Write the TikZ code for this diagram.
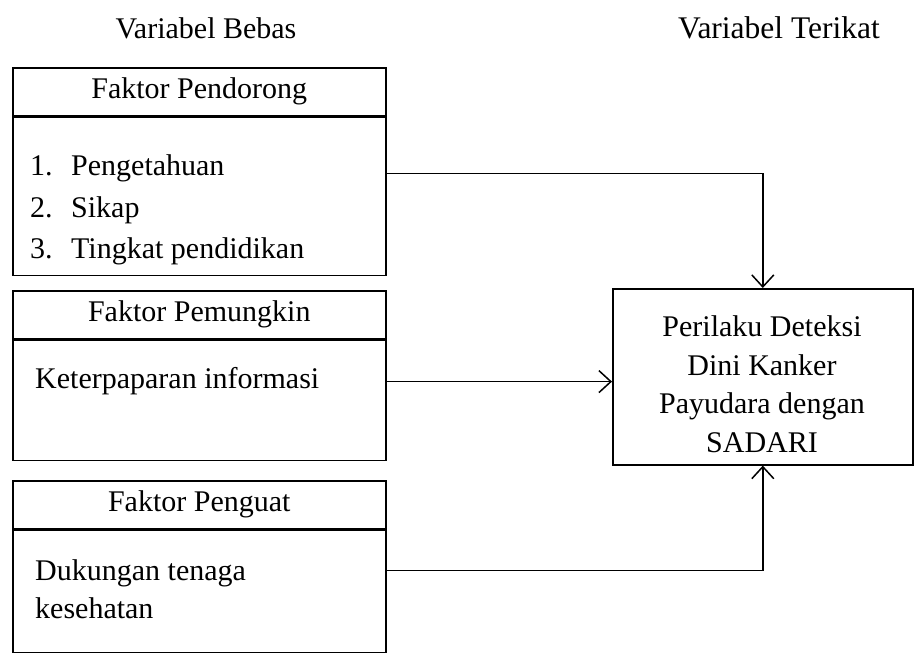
\documentclass[tikz,border=0pt]{standalone}
\usepackage{fontspec}
\setmainfont{Liberation Serif}
\usepackage{tikz}
\usetikzlibrary{arrows.meta,positioning}

\tikzset{
  kotak/.style={draw, line width=1.6pt, rectangle, minimum width=373pt, inner sep=0pt},
  teks/.style={font=\fontsize{30}{40}\selectfont, inner sep=0pt},
  panah/.style={line width=1.5pt, -{Straight Barb[length=12pt,width=22pt]}},
}

\begin{document}
\begin{tikzpicture}[x=1pt,y=-1pt]
	\useasboundingbox (0,0) rectangle (915,671);
	% judul kolom
	\node[teks] (bebas) at (206,28) {Variabel Bebas};
	\node[teks, font=\fontsize{31.5}{40}\selectfont] (terikat) at (779,28) {Variabel Terikat};
	% faktor pendorong
	\node[kotak, teks, minimum height=48pt, anchor=north west] (kepala1) at (12,67) {Faktor Pendorong};
	\node[kotak, minimum height=158pt, anchor=north] (isi1) at (kepala1.south) {};
	\node[teks, anchor=west, align=left, font=\fontsize{30}{41.5}\selectfont] (daftar1) at (30,210)
		{\makebox[41pt][l]{1.}Pengetahuan\\\makebox[41pt][l]{2.}Sikap\\\makebox[41pt][l]{3.}Tingkat pendidikan};
	% faktor pemungkin
	\node[kotak, teks, minimum height=48pt, anchor=north west] (kepala2) at (12,290) {Faktor Pemungkin};
	\node[kotak, minimum height=120pt, anchor=north] (isi2) at (kepala2.south) {};
	\node[teks, anchor=west] (daftar2) at (35,381) {Keterpaparan informasi};
	% faktor penguat
	\node[kotak, teks, minimum height=48pt, anchor=north west] (kepala3) at (12,480) {Faktor Penguat};
	\node[kotak, minimum height=122pt, anchor=north] (isi3) at (kepala3.south) {};
	\node[teks, anchor=west, align=left, font=\fontsize{30}{38}\selectfont] (daftar3) at (35,589) {Dukungan tenaga\\kesehatan};
	% variabel terikat
	\node[kotak, minimum width=300pt, minimum height=176pt, anchor=north west] (hasil) at (612,288) {};
	\node[teks, align=center, font=\fontsize{30}{38.5}\selectfont] (judulhasil) at (762,384)
		{Perilaku Deteksi\\Dini Kanker\\Payudara dengan\\SADARI};
	% panah
	\draw[panah] (isi1.north east) ++(0,57) -| (hasil.north);
	\draw[panah] (isi2.north east) ++(0,42) coordinate (keluar2) -- (keluar2 -| hasil.west);
	\draw[panah] (isi3.north east) ++(0,41) -| (hasil.south);
\end{tikzpicture}
\end{document}
